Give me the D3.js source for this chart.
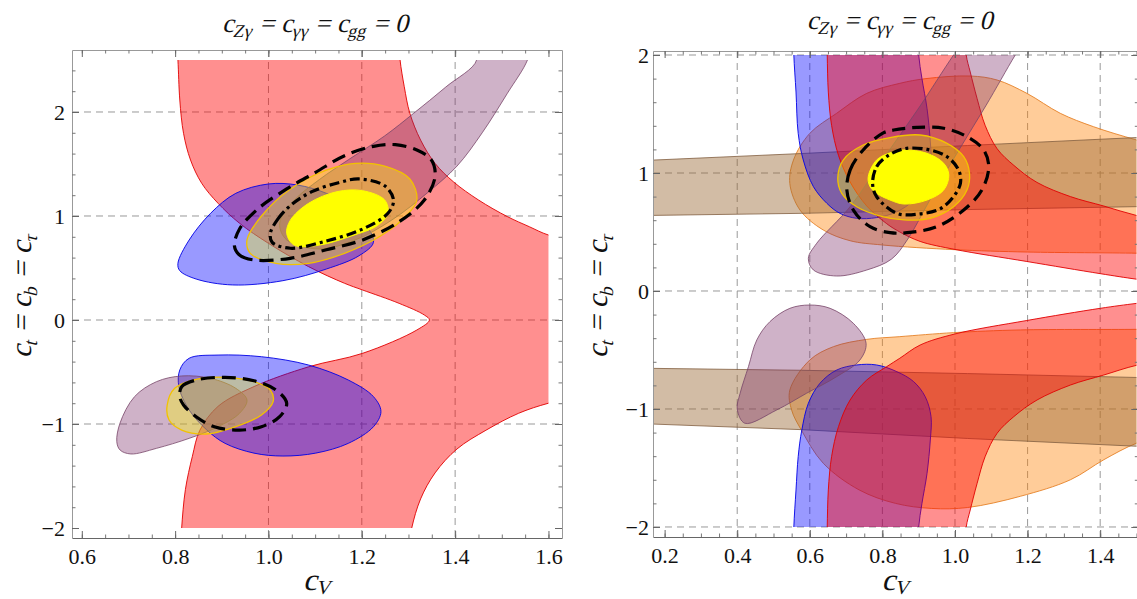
<!DOCTYPE html>
<html><head><meta charset="utf-8">
<script src="https://cdn.jsdelivr.net/npm/d3@7"></script>
<style>body{margin:0;background:#fff}</style>
</head><body>
<script>
// ================= DATA =================
// axes
const leftXTicks  = [0.6, 0.8, 1.0, 1.2, 1.4, 1.6];
const leftYTicks  = [-2, -1, 0, 1, 2];
const rightXTicks = [0.2, 0.4, 0.6, 0.8, 1.0, 1.2, 1.4];
const rightYTicks = [-2, -1, 0, 1, 2];
const leftGridX  = [1.0, 1.2, 1.4];
const leftGridY  = [-1, 0, 1, 2];
const rightGridX = [0.4, 0.6, 0.8, 1.0, 1.2, 1.4];
const rightGridY = [-2, -1, 0, 1, 2];

// ---- left panel regions, points are [c_V, c_t] ----
const leftRed = [[0.803,2.7],[0.806,2.5],[0.810,2.115],[0.818,1.795],[0.833,1.538],[0.857,1.314],[0.892,1.122],[0.938,0.93],[1.0,0.737],[1.086,0.513],[1.163,0.353],[1.202,0.288],[1.28,0.16],[1.334,0.048],[1.345,0.0],[1.318,-0.096],[1.202,-0.32],[1.086,-0.45],[0.969,-0.64],[0.892,-0.83],[0.853,-1.06],[0.837,-1.31],[0.822,-1.63],[0.814,-2.0],[0.812,-2.2],
  [1.30,-2.2],[1.307,-2.0],[1.326,-1.72],[1.357,-1.47],[1.404,-1.24],[1.466,-1.06],[1.536,-0.897],[1.60,-0.80],[1.68,-0.72],[1.68,0.74],[1.60,0.817],[1.559,0.897],[1.512,0.994],[1.45,1.154],[1.396,1.33],[1.357,1.506],[1.326,1.73],[1.303,1.987],[1.291,2.243],[1.282,2.5],[1.279,2.7]];
const leftBlueUp = [[0.806,0.545],[0.830,0.769],[0.876,1.026],[0.930,1.218],[1.0,1.308],[1.062,1.298],[1.124,1.218],[1.171,1.099],[1.21,0.907],[1.225,0.747],[1.194,0.618],[1.124,0.49],[1.031,0.378],[0.923,0.337],[0.845,0.394],[0.810,0.474]];
const leftBlueDown = [[0.808,-0.641],[0.810,-0.48],[0.830,-0.368],[0.892,-0.337],[0.985,-0.353],[1.086,-0.433],[1.171,-0.577],[1.225,-0.737],[1.241,-0.88],[1.225,-1.026],[1.171,-1.186],[1.101,-1.28],[1.031,-1.308],[0.969,-1.28],[0.907,-1.186],[0.868,-1.058],[0.83,-0.865]];
const leftMauveUp = [[1.43,2.7],[1.446,2.5],[1.380,2.24],[1.311,1.987],[1.249,1.77],[1.171,1.54],[1.109,1.35],[1.055,1.15],[1.024,0.93],[1.039,0.77],[1.109,0.683],[1.186,0.77],[1.264,0.96],[1.342,1.228],[1.404,1.48],[1.458,1.80],[1.512,2.18],[1.555,2.5],[1.565,2.7]];
const leftMauveDown = [[0.675,-1.17],[0.682,-0.99],[0.713,-0.737],[0.76,-0.593],[0.814,-0.538],[0.876,-0.561],[0.93,-0.657],[0.954,-0.77],[0.938,-0.897],[0.892,-1.026],[0.83,-1.138],[0.76,-1.234],[0.705,-1.288],[0.682,-1.25]];
const leftYellowOuterUp = [[0.954,0.77],[0.985,1.0],[1.047,1.26],[1.124,1.44],[1.186,1.506],[1.249,1.48],[1.303,1.356],[1.318,1.154],[1.295,1.0],[1.241,0.81],[1.163,0.641],[1.086,0.545],[1.016,0.545],[0.961,0.641]];
const leftYellowInnerUp = [[1.039,0.833],[1.047,0.96],[1.086,1.122],[1.147,1.234],[1.202,1.243],[1.249,1.154],[1.256,1.026],[1.233,0.907],[1.179,0.81],[1.109,0.72],[1.055,0.72]];
const leftYellowOuterDown = [[0.783,-0.817],[0.799,-0.657],[0.845,-0.571],[0.907,-0.551],[0.969,-0.593],[1.004,-0.673],[1.01,-0.785],[0.985,-0.913],[0.93,-1.026],[0.868,-1.096],[0.814,-1.058],[0.787,-0.962]];
const leftDashedUp = [[0.927,0.714],[0.938,0.625],[0.969,0.577],[1.047,0.593],[1.124,0.676],[1.202,0.77],[1.28,0.945],[1.334,1.154],[1.357,1.38],[1.349,1.54],[1.318,1.635],[1.272,1.686],[1.225,1.67],[1.163,1.58],[1.101,1.42],[1.039,1.26],[0.977,1.067],[0.938,0.875]];
const leftDashDotUp = [[1.004,0.833],[1.02,0.97],[1.047,1.10],[1.093,1.234],[1.15,1.32],[1.194,1.356],[1.249,1.29],[1.268,1.154],[1.256,1.026],[1.202,0.875],[1.124,0.76],[1.047,0.69],[1.008,0.747]];
const leftDashedDown = [[0.81,-0.737],[0.814,-0.641],[0.845,-0.577],[0.907,-0.551],[0.969,-0.584],[1.016,-0.673],[1.039,-0.80],[1.024,-0.93],[0.985,-1.026],[0.938,-1.058],[0.884,-1.026],[0.845,-0.93],[0.818,-0.817]];

// ---- right panel regions ----
const rightRedUp = [[0.647,2.2],[0.648,2.0],[0.651,1.686],[0.66,1.404],[0.679,1.15],[0.711,0.924],[0.757,0.72],[0.812,0.57],[0.848,0.50],[0.904,0.42],[1.0,0.352],[1.198,0.25],[1.4,0.147],[1.5,0.10],[1.6,0.06],[1.6,0.58],[1.5,0.64],[1.41,0.72],[1.318,0.80],[1.226,0.92],[1.162,1.065],[1.116,1.206],[1.083,1.404],[1.061,1.63],[1.042,1.856],[1.031,2.0],[1.029,2.2]];
const rightRedDown = [[0.647,-2.2],[0.648,-2.0],[0.651,-1.686],[0.66,-1.404],[0.679,-1.15],[0.711,-0.924],[0.757,-0.754],[0.812,-0.641],[0.848,-0.57],[0.904,-0.458],[1.0,-0.364],[1.198,-0.25],[1.4,-0.147],[1.5,-0.105],[1.6,-0.07],[1.6,-0.58],[1.5,-0.63],[1.41,-0.712],[1.318,-0.797],[1.226,-0.924],[1.162,-1.065],[1.116,-1.206],[1.083,-1.404],[1.061,-1.63],[1.042,-1.856],[1.031,-2.0],[1.029,-2.2]];
const rightBlueUp = [[0.555,2.2],[0.556,2.0],[0.562,1.686],[0.568,1.336],[0.582,1.11],[0.61,0.884],[0.647,0.743],[0.683,0.658],[0.729,0.616],[0.784,0.622],[0.839,0.67],[0.886,0.768],[0.918,0.896],[0.934,1.065],[0.932,1.263],[0.923,1.545],[0.909,1.8],[0.90,2.0],[0.899,2.2]];
const rightBlueDown = [[0.555,-2.2],[0.556,-2.0],[0.562,-1.686],[0.568,-1.404],[0.578,-1.178],[0.596,-0.952],[0.628,-0.782],[0.674,-0.67],[0.729,-0.627],[0.784,-0.627],[0.84,-0.684],[0.886,-0.768],[0.918,-0.896],[0.934,-1.065],[0.932,-1.263],[0.923,-1.545],[0.909,-1.8],[0.90,-2.0],[0.899,-2.2]];
const rightMauveUp = [[1.043,2.2],[1.207,2.2],[1.166,2.0],[1.085,1.57],[1.0,1.14],[0.925,0.74],[0.87,0.44],[0.825,0.27],[0.757,0.178],[0.674,0.127],[0.61,0.178],[0.596,0.277],[0.619,0.404],[0.711,0.714],[0.80,1.11],[0.90,1.55],[0.996,2.0]];
const rightMauveDown = [[0.40,-1.0],[0.408,-0.867],[0.431,-0.641],[0.454,-0.415],[0.49,-0.26],[0.545,-0.147],[0.60,-0.119],[0.656,-0.147],[0.72,-0.274],[0.755,-0.443],[0.738,-0.585],[0.674,-0.726],[0.591,-0.867],[0.509,-1.008],[0.421,-1.121]];
const rightOrangeUp = [[0.545,0.91],[0.555,1.11],[0.60,1.336],[0.674,1.506],[0.757,1.675],[0.848,1.76],[0.92,1.80],[1.042,1.822],[1.116,1.788],[1.198,1.675],[1.29,1.506],[1.382,1.392],[1.5,1.28],[1.6,1.2],[1.6,0.31],[1.5,0.32],[1.2,0.33],[1.0,0.35],[0.80,0.39],[0.711,0.426],[0.637,0.517],[0.573,0.686]];
const rightOrangeDown = [[0.545,-0.84],[0.60,-0.585],[0.665,-0.472],[0.757,-0.41],[0.848,-0.387],[0.996,-0.353],[1.18,-0.33],[1.5,-0.325],[1.6,-0.32],[1.6,-1.2],[1.5,-1.29],[1.41,-1.43],[1.318,-1.6],[1.18,-1.74],[1.035,-1.835],[0.936,-1.843],[0.836,-1.8],[0.736,-1.686],[0.637,-1.46],[0.577,-1.18],[0.55,-1.01]];
const rightBrownUp = [[0.1,1.10],[0.577,1.165],[1.035,1.233],[1.6,1.315],[1.6,0.72],[1.035,0.69],[0.577,0.658],[0.1,0.638]];
const rightBrownDown = [[0.1,-0.653],[0.577,-0.672],[1.035,-0.70],[1.6,-0.74],[1.6,-1.33],[1.035,-1.25],[0.577,-1.175],[0.1,-1.12]];
const rightYellowOuter = [[0.677,0.955],[0.692,1.11],[0.747,1.237],[0.821,1.3],[0.904,1.322],[0.978,1.251],[1.024,1.138],[1.04,0.997],[1.033,0.856],[0.996,0.714],[0.932,0.616],[0.859,0.602],[0.80,0.63],[0.729,0.714],[0.688,0.827]];
const rightYellowInner = [[0.761,0.97],[0.784,1.11],[0.82,1.17],[0.859,1.195],[0.923,1.167],[0.969,1.082],[0.983,0.983],[0.969,0.856],[0.923,0.771],[0.859,0.737],[0.821,0.771],[0.784,0.828],[0.765,0.89]];
const rightDashDot = [[0.773,0.913],[0.784,1.053],[0.812,1.14],[0.859,1.205],[0.923,1.2],[0.978,1.138],[1.01,1.025],[1.015,0.913],[0.996,0.8],[0.96,0.698],[0.904,0.653],[0.84,0.658],[0.784,0.8]];
const rightDashed = [[0.702,0.856],[0.711,1.025],[0.747,1.195],[0.80,1.336],[0.831,1.364],[0.895,1.386],[0.969,1.379],[1.033,1.308],[1.079,1.195],[1.093,1.053],[1.074,0.856],[1.024,0.686],[0.95,0.545],[0.868,0.494],[0.821,0.494],[0.766,0.545],[0.72,0.686]];

// ================= STYLES =================
const ST = {
  red:    {fill:"rgba(255,0,0,0.44)",   stroke:"rgba(225,0,0,0.9)"},
  blue:   {fill:"rgba(0,0,255,0.40)",   stroke:"rgba(0,0,230,0.9)"},
  mauve:  {fill:"rgba(122,42,102,0.36)",stroke:"rgba(120,70,105,0.8)"},
  orange: {fill:"rgba(255,128,0,0.40)", stroke:"rgba(230,130,40,0.9)"},
  brown:  {fill:"rgba(153,102,51,0.44)",stroke:"rgba(130,95,65,0.8)"},
  yout:   {fill:"rgba(255,255,0,0.35)", stroke:"#f2c200"},
  yin:    {fill:"#ffff00", stroke:"#ffff00"}
};

const W = 1137, H = 599;
const FONT = "Liberation Serif";
const SLANT = "skewX(-14)"; // Times-like italic (the serif italic face is not installed)
const svg = d3.select("body").append("svg").attr("width", W).attr("height", H)
  .attr("font-family", FONT);

function rich(sel, parts, size, subSize, shift) {
  let down = false;
  parts.forEach(p => {
    const sub = Array.isArray(p);
    const t = sel.append("tspan").text(sub ? p[0] : p).attr("font-size", sub ? subSize : size);
    if (sub && !down) { t.attr("dy", shift); down = true; }
    else if (!sub && down) { t.attr("dy", -shift); down = false; }
  });
}
function slanted(x, y, rot) {
  return svg.append("text")
    .attr("transform", `translate(${x},${y})${rot ? " rotate(" + rot + ")" : ""} ${SLANT}`)
    .attr("text-anchor", "middle").attr("fill", "#111").attr("font-family", FONT);
}

function panel(cfg) {
  const x = d3.scaleLinear().domain(cfg.xd).range(cfg.xr);
  const y = d3.scaleLinear().domain(cfg.yd).range(cfg.yr);
  const g = svg.append("g");
  const [x0, x1] = cfg.xr, [y0, y1] = cfg.yr; // y0 bottom, y1 top

  // grid
  g.append("g").selectAll("line").data(cfg.gridX).join("line")
    .attr("x1", d => x(d)).attr("x2", d => x(d)).attr("y1", y1).attr("y2", y0)
    .attr("stroke", "#999").attr("stroke-width", 1).attr("stroke-dasharray", "7,5");
  g.append("g").selectAll("line").data(cfg.gridY).join("line")
    .attr("y1", d => y(d)).attr("y2", d => y(d)).attr("x1", x0).attr("x2", x1)
    .attr("stroke", "#999").attr("stroke-width", 1).attr("stroke-dasharray", "7,5");

  // clip to the region-plot domain
  const cid = "clip" + cfg.id;
  svg.append("defs").append("clipPath").attr("id", cid).append("rect")
    .attr("x", x(cfg.clipX[0])).attr("width", x(cfg.clipX[1]) - x(cfg.clipX[0]))
    .attr("y", y(cfg.clipY[1])).attr("height", y(cfg.clipY[0]) - y(cfg.clipY[1]));
  const rg = g.append("g").attr("clip-path", `url(#${cid})`);

  const smooth = d3.line().x(d => x(d[0])).y(d => y(d[1])).curve(d3.curveCatmullRomClosed.alpha(0.5));
  const straight = d3.line().x(d => x(d[0])).y(d => y(d[1])).curve(d3.curveLinearClosed);

  cfg.regions.forEach(r => {
    const s = ST[r.style];
    rg.append("path").attr("d", (r.linear ? straight : smooth)(r.data))
      .attr("fill", s.fill).attr("stroke", s.stroke).attr("stroke-width", r.sw || 1)
      .attr("stroke-linejoin", "round");
  });
  cfg.contours.forEach(c => {
    rg.append("path").attr("d", smooth(c.data)).attr("fill", "none")
      .attr("stroke", "#000").attr("stroke-width", 3.2)
      .attr("stroke-dasharray", c.dash);
  });

  // axes with inward ticks (frame)
  const minorX = d3.range(cfg.minorX[0], cfg.minorX[1] + 1e-9, cfg.minorX[2]);
  const minorY = d3.range(cfg.minorY[0], cfg.minorY[1] + 1e-9, cfg.minorY[2]);
  const fmtX = d3.format(".1f");
  const fmtY = d => d < 0 ? "\u2212" + Math.abs(d) : String(d);
  const mk = i => (i === 0 ? d3.axisBottom(x) : i === 1 ? d3.axisTop(x) : i === 2 ? d3.axisLeft(y) : d3.axisRight(y));
  const axes = [
    {t: `translate(0,${y0})`, maj: cfg.xTicks, min: minorX, lab: fmtX},
    {t: `translate(0,${y1})`, maj: cfg.xTicks, min: minorX, lab: null},
    {t: `translate(${x0},0)`, maj: cfg.yTicks, min: minorY, lab: fmtY},
    {t: `translate(${x1},0)`, maj: cfg.yTicks, min: minorY, lab: null}
  ];
  axes.forEach((ax, i) => {
    const gm = g.append("g").attr("transform", ax.t)
      .call(mk(i).tickValues(ax.min).tickSize(-3.5).tickSizeOuter(0).tickFormat(""));
    gm.select(".domain").attr("stroke", i === 0 ? "#666" : "#999");
    gm.selectAll(".tick line").attr("stroke", "#777");
    const gM = g.append("g").attr("transform", ax.t)
      .call(mk(i).tickValues(ax.maj).tickSize(-7).tickSizeOuter(0)
        .tickPadding(i < 2 ? 10 : cfg.yPad).tickFormat(ax.lab ? ax.lab : ""));
    gM.attr("font-family", FONT);
    gM.select(".domain").remove();
    gM.selectAll(".tick line").attr("stroke", "#666");
    gM.selectAll(".tick text").attr("fill", "#111").attr("font-size", 22)
      .attr("font-family", FONT);
  });

  // title
  rich(slanted((x0 + x1) / 2 + cfg.titleDx, cfg.titleY),
    ["c", ["Z\u03b3"], " = c", ["\u03b3\u03b3"], " = c", ["gg"], " = 0"], 26.5, 18, 5);
  // x label
  rich(slanted((x0 + x1) / 2, 590), ["c", ["V"]], 31, 20, 4);
  // y label
  rich(slanted(cfg.yLabX, cfg.yLabY, -90), ["c", ["t"], " = c", ["b"], " = c", ["\u03c4"]], 29.5, 19, 6);
}

panel({
  id: "L", xd: [0.579, 1.629], xr: [72, 562], yd: [-2.096, 2.596], yr: [538, 50],
  clipX: [0.579, 1.6], clipY: [-2.0, 2.5],
  gridX: leftGridX, gridY: leftGridY, xTicks: leftXTicks, yTicks: leftYTicks,
  minorX: [0.6, 1.6, 0.05], minorY: [-2, 2.4, 0.2], yPad: 7,
  titleY: 32, titleDx: -2, yLabX: 31, yLabY: 296,
  regions: [
    {data: leftRed, style: "red"},
    {data: leftBlueUp, style: "blue"},
    {data: leftBlueDown, style: "blue"},
    {data: leftMauveUp, style: "mauve"},
    {data: leftMauveDown, style: "mauve"},
    {data: leftYellowOuterUp, style: "yout", sw: 1.3},
    {data: leftYellowOuterDown, style: "yout", sw: 1.3},
    {data: leftYellowInnerUp, style: "yin"}
  ],
  contours: [
    {data: leftDashedUp, dash: "14,7"},
    {data: leftDashDotUp, dash: "10,4,3,4"},
    {data: leftDashedDown, dash: "14,7"}
  ]
});

panel({
  id: "R", xd: [0.168, 1.505], xr: [653, 1138.3], yd: [-2.085, 2.034], yr: [537, 51],
  clipX: [0.168, 1.5], clipY: [-2.0, 2.0],
  gridX: rightGridX, gridY: rightGridY, xTicks: rightXTicks, yTicks: rightYTicks,
  minorX: [0.2, 1.5, 0.05], minorY: [-2, 2, 0.2], yPad: 4,
  titleY: 29, titleDx: 4, yLabX: 607, yLabY: 296,
  regions: [
    {data: rightOrangeUp, style: "orange"},
    {data: rightOrangeDown, style: "orange"},
    {data: rightBrownUp, style: "brown", linear: true},
    {data: rightBrownDown, style: "brown", linear: true},
    {data: rightBlueUp, style: "blue"},
    {data: rightBlueDown, style: "blue"},
    {data: rightRedUp, style: "red"},
    {data: rightRedDown, style: "red"},
    {data: rightMauveUp, style: "mauve"},
    {data: rightMauveDown, style: "mauve"},
    {data: rightYellowOuter, style: "yout", sw: 1.3},
    {data: rightYellowInner, style: "yin"}
  ],
  contours: [
    {data: rightDashed, dash: "13,7"},
    {data: rightDashDot, dash: "10,4,3,4"}
  ]
});
</script>
</body></html>
